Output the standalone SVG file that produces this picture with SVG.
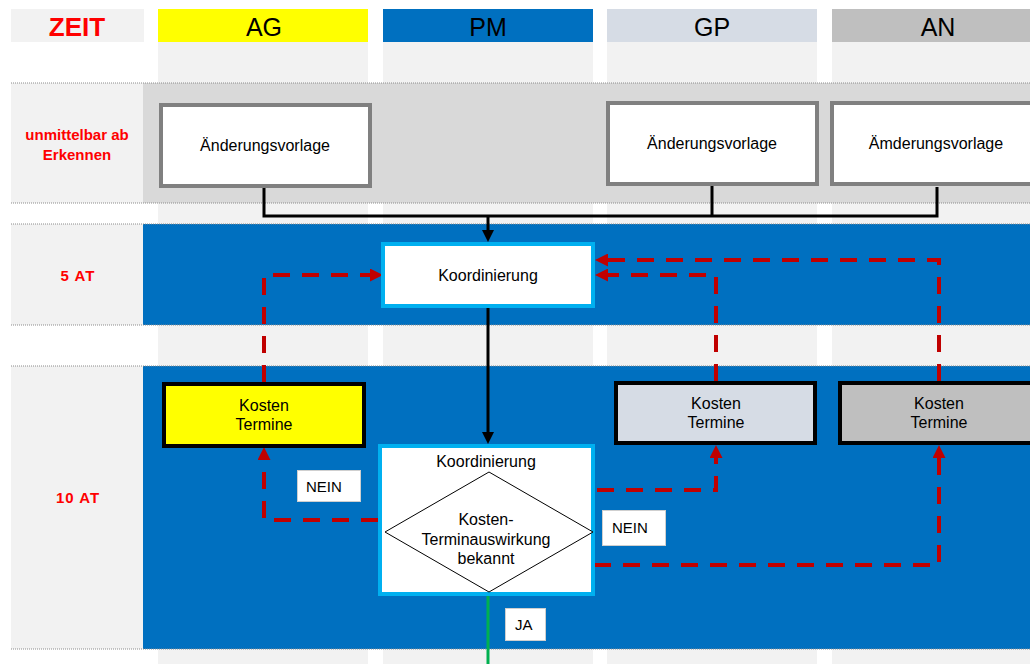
<svg xmlns="http://www.w3.org/2000/svg" width="1030" height="664" viewBox="0 0 1030 664">
  <style>
    text { font-family: "Liberation Sans", Arial, sans-serif; }
    .hdr { font-size: 25px; text-anchor: middle; fill: #000; }
    .zeit { font-size: 26px; font-weight: bold; fill: #ff0000; text-anchor: middle; }
    .time { font-size: 15px; font-weight: bold; fill: #ff0000; text-anchor: middle; }
    .t { font-size: 16px; fill: #000; text-anchor: middle; }
    .lbl { font-size: 15px; fill: #000; }
    .lane { fill: #f2f2f2; }
    .sep { stroke: #8c8c8c; stroke-width: 1; stroke-dasharray: 1 1; fill: none; }
    .vorlage { fill: #fff; stroke: #808080; stroke-width: 4; }
    .kosten { stroke: #000; stroke-width: 4; }
    .koord { fill: #fff; stroke: #00b0f0; stroke-width: 4; }
    .tag { fill: #fff; stroke: #cfcfcf; stroke-width: 1; }
    .solid { fill: none; stroke: #000; stroke-width: 3; }
    .dash { fill: none; stroke: #c00000; stroke-width: 4; stroke-dasharray: 17 12; }
  </style>
  <defs>
    <marker id="arrBlack" markerUnits="userSpaceOnUse" markerWidth="12" markerHeight="12" refX="0" refY="6" orient="auto">
      <path d="M0,0 L12,6 L0,12 z" fill="#000"/>
    </marker>
    <marker id="arrRed" markerUnits="userSpaceOnUse" markerWidth="13" markerHeight="13" refX="0" refY="6.5" orient="auto">
      <path d="M0,0 L13,6.5 L0,13 z" fill="#c00000"/>
    </marker>
  </defs>

  <rect width="1030" height="664" fill="#fff"/>

  <!-- swimlane columns -->
  <g id="lanes">
    <rect class="lane" x="158" y="42" width="210" height="622"/>
    <rect class="lane" x="383" y="42" width="210" height="622"/>
    <rect class="lane" x="607" y="42" width="210" height="622"/>
    <rect class="lane" x="832" y="42" width="198" height="622"/>
  </g>

  <!-- lane headers -->
  <g id="header-zeit">
    <rect x="11" y="9" width="133" height="33" fill="#f2f2f2"/>
    <text class="zeit" x="77" y="36">ZEIT</text>
  </g>
  <g id="header-ag">
    <rect x="158" y="9" width="210" height="33" fill="#ffff00"/>
    <text class="hdr" x="264" y="36">AG</text>
  </g>
  <g id="header-pm">
    <rect x="383" y="9" width="210" height="33" fill="#0070c0"/>
    <text class="hdr" x="488" y="36">PM</text>
  </g>
  <g id="header-gp">
    <rect x="607" y="9" width="210" height="33" fill="#d6dce5"/>
    <text class="hdr" x="712" y="36">GP</text>
  </g>
  <g id="header-an">
    <rect x="832" y="9" width="198" height="33" fill="#bfbfbf"/>
    <text class="hdr" x="938" y="36">AN</text>
  </g>

  <!-- time bands -->
  <g id="band-sofort">
    <rect x="11" y="83" width="132" height="120" fill="#f2f2f2"/>
    <rect x="143" y="83" width="887" height="120" fill="#d9d9d9"/>
    <text class="time" x="77" y="140">unmittelbar ab</text>
    <text class="time" x="77" y="160">Erkennen</text>
  </g>
  <g id="band-5at">
    <rect x="11" y="224" width="132" height="101" fill="#f2f2f2"/>
    <rect x="143" y="224" width="887" height="101" fill="#0070c0"/>
    <text class="time" x="78" y="281" letter-spacing="1">5 AT</text>
  </g>
  <g id="band-10at">
    <rect x="11" y="366" width="132" height="283" fill="#f2f2f2"/>
    <rect x="143" y="366" width="887" height="283" fill="#0070c0"/>
    <text class="time" x="78" y="503" letter-spacing="1">10 AT</text>
  </g>

  <!-- band separators -->
  <g id="separators">
    <line class="sep" x1="11" y1="83" x2="1030" y2="83"/>
    <line class="sep" x1="11" y1="203" x2="1030" y2="203"/>
    <line class="sep" x1="11" y1="224" x2="1030" y2="224"/>
    <line class="sep" x1="11" y1="325" x2="1030" y2="325"/>
    <line class="sep" x1="11" y1="366" x2="1030" y2="366"/>
    <line class="sep" x1="11" y1="649" x2="1030" y2="649"/>
  </g>

  <!-- connectors -->
  <g id="connectors">
    <path class="solid" d="M264,188 V216 H937 V187 M712,186 V216"/>
    <path class="solid" d="M488,216 V230" marker-end="url(#arrBlack)"/>
    <path class="solid" d="M488,308 V432" marker-end="url(#arrBlack)"/>
    <path d="M488,593 V664" fill="none" stroke="#00b050" stroke-width="3"/>

    <path class="dash" d="M264,382 V275 H370" marker-end="url(#arrRed)"/>
    <path class="dash" d="M716,381 V275 H608" marker-end="url(#arrRed)"/>
    <path class="dash" d="M939,381 V260 H608" marker-end="url(#arrRed)"/>
    <path class="dash" d="M378,520 H264 V460" marker-end="url(#arrRed)"/>
    <path class="dash" d="M597,490 H716 V458" marker-end="url(#arrRed)"/>
    <path class="dash" d="M594,565 H939 V458" marker-end="url(#arrRed)"/>
  </g>

  <!-- nodes -->
  <g id="vorlage-ag">
    <rect class="vorlage" x="161" y="105" width="209" height="81"/>
    <text class="t" x="265" y="151">Änderungsvorlage</text>
  </g>
  <g id="vorlage-gp">
    <rect class="vorlage" x="608" y="103" width="209" height="81"/>
    <text class="t" x="712" y="149">Änderungsvorlage</text>
  </g>
  <g id="vorlage-an">
    <rect class="vorlage" x="832" y="103" width="210" height="81"/>
    <text class="t" x="936" y="149">Ämderungsvorlage</text>
  </g>

  <g id="koordinierung">
    <rect class="koord" x="383" y="244" width="210" height="62"/>
    <text class="t" x="488" y="281">Koordinierung</text>
  </g>

  <g id="kosten-ag">
    <rect class="kosten" x="164" y="384" width="200" height="62" fill="#ffff00"/>
    <text class="t" x="264" y="411">Kosten</text>
    <text class="t" x="264" y="430">Termine</text>
  </g>
  <g id="kosten-gp">
    <rect class="kosten" x="616" y="383" width="199" height="60" fill="#d6dce5"/>
    <text class="t" x="716" y="409">Kosten</text>
    <text class="t" x="716" y="428">Termine</text>
  </g>
  <g id="kosten-an">
    <rect class="kosten" x="840" y="383" width="200" height="60" fill="#bfbfbf"/>
    <text class="t" x="939" y="409">Kosten</text>
    <text class="t" x="939" y="428">Termine</text>
  </g>

  <g id="pruefung">
    <rect class="koord" x="380" y="446" width="213" height="148"/>
    <text class="t" x="486" y="467">Koordinierung</text>
    <path d="M385,532 L489,472 L593,532 L489,592 z" fill="#fff" stroke="#000" stroke-width="1"/>
    <text class="t" x="486" y="525">Kosten-</text>
    <text class="t" x="486" y="545">Terminauswirkung</text>
    <text class="t" x="486" y="564">bekannt</text>
  </g>

  <g id="label-nein-links">
    <rect class="tag" x="297.5" y="470.5" width="63" height="31"/>
    <text class="lbl" x="306" y="492">NEIN</text>
  </g>
  <g id="label-nein-rechts">
    <rect class="tag" x="602.5" y="510.5" width="63" height="35"/>
    <text class="lbl" x="612" y="533">NEIN</text>
  </g>
  <g id="label-ja">
    <rect class="tag" x="505.5" y="608.5" width="40" height="32"/>
    <text class="lbl" x="515" y="630">JA</text>
  </g>
</svg>
